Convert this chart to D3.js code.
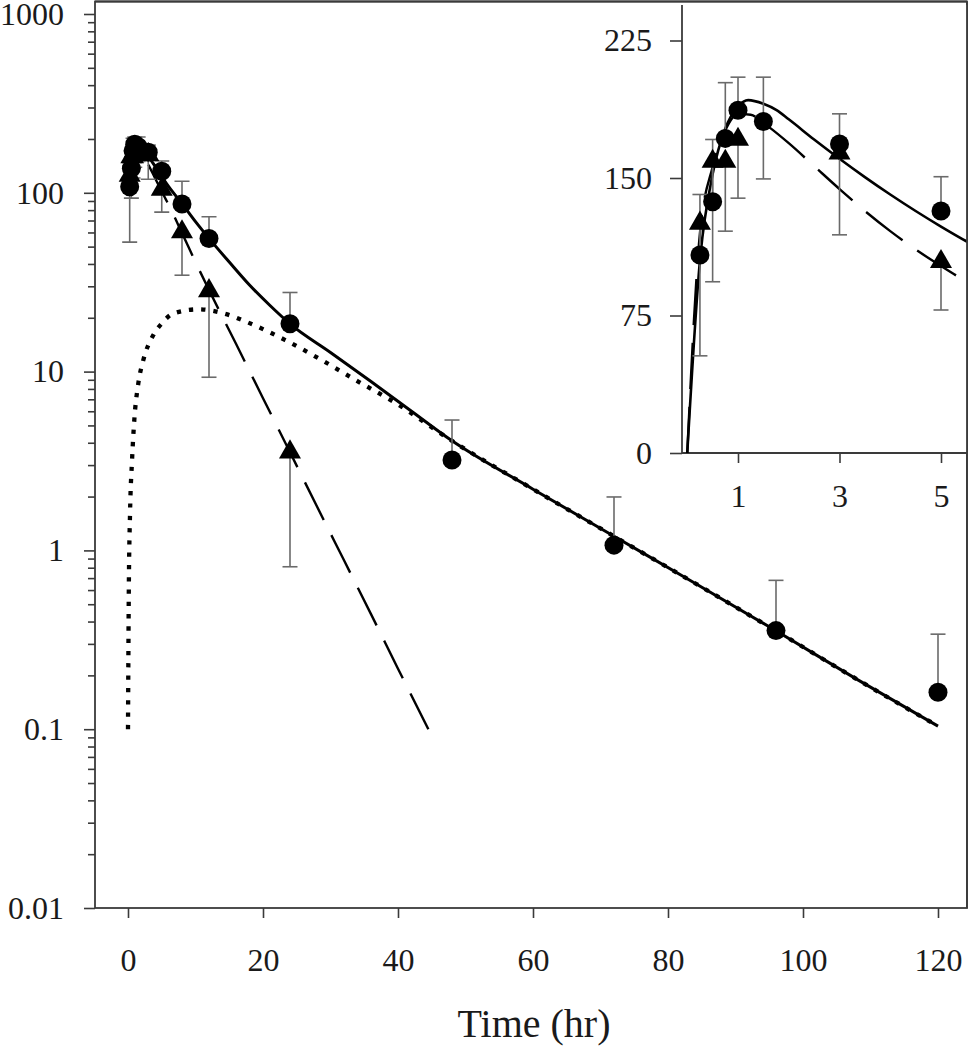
<!DOCTYPE html>
<html><head><meta charset="utf-8">
<script src="https://cdn.jsdelivr.net/npm/d3@7"></script>
<style>
body{margin:0;background:#fff}
text{font-family:"Liberation Serif","Times New Roman",serif;fill:#1a1a1a}
</style>
</head><body>
<svg id="c" width="971" height="1050"></svg>
<script>
// ---------------- data ----------------
const circleTime  = [0.25, 0.5, 0.75, 1, 1.5, 3, 5, 8, 12, 24, 48, 72, 96, 120];
const circleConc  = [108, 137, 171.6, 187, 180.8, 168.6, 132, 86.5, 55.5, 18.5, 3.2, 1.07, 0.356, 0.161];
const circleUpper = [141, 171, 202, 205, 205, 185, 150.7, 116, 73.5, 27.7, 5.36, 1.99, 0.68, 0.34];
const circleLower = [null, null, null, null, 149.5, null, null, null, null, null, null, null, null, null];

const triTime  = [0.25, 0.5, 0.75, 1, 3, 5, 8, 12, 24];
const triConc  = [125.3, 159, 159, 171, 163.5, 104.4, 60.4, 28.3, 3.55];
const triLower = [53, 93.4, 121, 139, 119, 78, 34.6, 9.3, 0.81];

const solidTime = [0, 0.25, 0.5, 0.75, 1, 1.2, 1.5, 1.76, 2, 2.5, 3, 3.5, 4, 4.5, 5, 5.5, 6, 8, 10, 12, 15, 18, 21, 24, 30, 36, 42, 48, 60, 72, 84, 96, 108, 120];
const solidConc = [0, 105, 152, 177, 189, 192.5, 190.5, 187, 182, 171, 160.5, 150.5, 141, 132, 123.5, 115.5, 108.5, 87, 69, 55.6, 41, 30.5, 23.5, 18.5, 12.8, 8.8, 6.0, 4.1, 2.2, 1.2, 0.655, 0.355, 0.19, 0.104];

const dashedTime = [0, 0.25, 0.5, 0.75, 1, 1.25, 1.5, 2, 2.5, 3, 3.5, 4, 4.5, 5, 5.5, 6, 8, 10, 12, 16, 20, 24, 28, 32, 36, 40, 44.5];
const dashedConc = [0, 120, 156, 176, 185, 184.5, 180, 169, 156.5, 144, 132, 121, 111, 102, 93.5, 86, 59.6, 41, 28.6, 14.3, 7.1, 3.54, 1.76, 0.88, 0.44, 0.218, 0.1];

const dottedTime = [0, 0.12, 0.3, 0.6, 0.94, 1.53, 2.27, 3.75, 5, 6.8, 10.4, 14.1, 17.8, 23.3, 28.7, 34.1, 39.3, 48, 60, 72, 84, 96, 108, 120];
const dottedConc = [0.1, 0.6, 1.6, 3.2, 5.4, 8.6, 11.6, 16, 18.6, 21.2, 22.3, 21.2, 18.8, 15, 11.6, 8.8, 6.8, 4.1, 2.2, 1.2, 0.655, 0.355, 0.19, 0.104];

const yTickValues  = [0.01, 0.1, 1, 10, 100, 1000];
const yTickLabels  = ["0.01", "0.1", "1", "10", "100", "1000"];
const xTickValues  = [0, 20, 40, 60, 80, 100, 120];
const insetYTicks  = [0, 75, 150, 225];
const insetXTicks  = [1, 3, 5];
const xTitle = "Time (hr)";

// ---------------- layout ----------------
const svg = d3.select("#c");
const F = {l: 95, t: 1.5, r: 967, b: 908};
const x = d3.scaleLinear().domain([0, 120]).range([128, 938]);
const y = d3.scaleLog().domain([0.01, 1000]).range([908, 14]);

const I = {l: 682, t: 5, r: 967, b: 453};
const xi = d3.scaleLinear().domain([1, 5]).range([738, 941]);
const yi = d3.scaleLinear().domain([0, 225]).range([453, 40.5]);

const defs = svg.append("defs");
defs.append("clipPath").attr("id", "clipMain").append("rect")
  .attr("x", F.l).attr("y", F.t).attr("width", F.r - F.l).attr("height", F.b - F.t);
defs.append("clipPath").attr("id", "clipInset").append("rect")
  .attr("x", I.l).attr("y", I.t).attr("width", I.r - I.l).attr("height", I.b - I.t);

const AX = "#3a3a3a";
const EB = "#6a6a6a";
const FS = 32;

// ---------------- main axes ----------------
const minorY = [];
for (let e = -2; e < 3; e++) for (let m = 2; m <= 9; m++) minorY.push(m * Math.pow(10, e));

const gyMinor = svg.append("g").attr("transform", `translate(${F.l},0)`)
  .call(d3.axisLeft(y).tickValues(minorY).tickSize(7).tickFormat(""));
const gy = svg.append("g").attr("transform", `translate(${F.l},0)`)
  .call(d3.axisLeft(y).tickValues(yTickValues).tickSize(11).tickPadding(20)
    .tickFormat((d, i) => yTickLabels[i]));
const gx = svg.append("g").attr("transform", `translate(0,${F.b})`)
  .call(d3.axisBottom(x).tickValues(xTickValues).tickSize(10).tickPadding(30).tickFormat(d3.format("d")));

[gyMinor, gy, gx].forEach(g => {
  g.select(".domain").remove();
  g.selectAll(".tick line").attr("stroke", AX).attr("stroke-width", 1.6);
  g.selectAll(".tick text").attr("font-size", FS).attr("fill", "#1a1a1a")
    .attr("font-family", '"Liberation Serif","Times New Roman",serif');
});

// frame
svg.append("rect").attr("x", F.l).attr("y", F.t).attr("width", F.r - F.l).attr("height", F.b - F.t)
  .attr("fill", "none").attr("stroke", AX).attr("stroke-width", 1.8);

svg.append("text").attr("x", 534).attr("y", 1037).attr("text-anchor", "middle")
  .attr("font-size", 40).text(xTitle);

// ---------------- main plot content ----------------
const main = svg.append("g").attr("clip-path", "url(#clipMain)");
const lineMain = d3.line().x(d => x(d[0])).y(d => y(d[1])).curve(d3.curveMonotoneX);

const dottedPts = dottedTime.map((t, i) => [t, dottedConc[i]]);
const dashedPtsMain = dashedTime.map((t, i) => [t, dashedConc[i]]).filter(d => d[0] >= 0.25);
const solidPtsMain = solidTime.map((t, i) => [t, solidConc[i]]).filter(d => d[0] >= 0.25);

main.append("path").attr("d", lineMain(dottedPts)).attr("fill", "none").attr("stroke", "#000")
  .attr("stroke-width", 4.3).attr("stroke-dasharray", "4.3 8");
main.append("path").attr("d", lineMain(dashedPtsMain)).attr("fill", "none").attr("stroke", "#000")
  .attr("stroke-width", 2.4).attr("stroke-dasharray", "42 17");
main.append("path").attr("d", lineMain(solidPtsMain)).attr("fill", "none").attr("stroke", "#000")
  .attr("stroke-width", 3);

function errorBars(g, xs, ys, times, centers, ends, cap) {
  times.forEach((t, i) => {
    const e = ends[i];
    if (e == null) return;
    const px = xs(t);
    g.append("line").attr("x1", px).attr("x2", px).attr("y1", ys(centers[i])).attr("y2", ys(e))
      .attr("stroke", EB).attr("stroke-width", 1.6);
    g.append("line").attr("x1", px - cap).attr("x2", px + cap).attr("y1", ys(e)).attr("y2", ys(e))
      .attr("stroke", EB).attr("stroke-width", 1.6);
  });
}
errorBars(main, x, y, circleTime, circleConc, circleUpper, 7.5);
errorBars(main, x, y, circleTime, circleConc, circleLower, 7.5);
errorBars(main, x, y, triTime, triConc, triLower, 7.5);

const circSym = d3.symbol().type(d3.symbolCircle).size(Math.PI * 9.5 * 9.5);
const triSym = d3.symbol().type(d3.symbolTriangle).size(210);

function markers(g, xs, ys, times, vals, sym, filt) {
  times.forEach((t, i) => {
    if (!filt(t)) return;
    g.append("path").attr("d", sym()).attr("fill", "#000")
      .attr("transform", `translate(${xs(t)},${ys(vals[i])})`);
  });
}
markers(main, x, y, circleTime, circleConc, circSym, () => true);
markers(main, x, y, triTime, triConc, triSym, () => true);

// ---------------- inset ----------------
svg.append("rect").attr("x", I.l).attr("y", I.t).attr("width", I.r - I.l).attr("height", I.b - I.t)
  .attr("fill", "#fff");

const giy = svg.append("g").attr("transform", `translate(${I.l},0)`)
  .call(d3.axisLeft(yi).tickValues(insetYTicks).tickSize(12).tickPadding(18).tickFormat(d3.format("d")));
const gix = svg.append("g").attr("transform", `translate(0,${I.b})`)
  .call(d3.axisBottom(xi).tickValues(insetXTicks).tickSize(10).tickPadding(21).tickFormat(d3.format("d")));
[giy, gix].forEach(g => {
  g.select(".domain").remove();
  g.selectAll(".tick line").attr("stroke", AX).attr("stroke-width", 1.6);
  g.selectAll(".tick text").attr("font-size", FS).attr("fill", "#1a1a1a")
    .attr("font-family", '"Liberation Serif","Times New Roman",serif');
});
svg.append("line").attr("x1", I.l).attr("x2", I.l).attr("y1", I.t).attr("y2", I.b)
  .attr("stroke", AX).attr("stroke-width", 1.8);
svg.append("line").attr("x1", I.l).attr("x2", I.r).attr("y1", I.b).attr("y2", I.b)
  .attr("stroke", AX).attr("stroke-width", 1.8);

const inset = svg.append("g").attr("clip-path", "url(#clipInset)");
const lineInset = d3.line().x(d => xi(d[0])).y(d => yi(d[1])).curve(d3.curveMonotoneX);
const dashedPtsIn = dashedTime.map((t, i) => [t, dashedConc[i]]).filter(d => d[0] <= 6);
const solidPtsIn = solidTime.map((t, i) => [t, solidConc[i]]).filter(d => d[0] <= 6);
inset.append("path").attr("d", lineInset(dashedPtsIn)).attr("fill", "none").attr("stroke", "#000")
  .attr("stroke-width", 2.4).attr("stroke-dasharray", "46 18");
inset.append("path").attr("d", lineInset(solidPtsIn)).attr("fill", "none").attr("stroke", "#000")
  .attr("stroke-width", 2.6);

const inInset = t => t <= 5.6;
const cT = circleTime.filter(inInset), tT = triTime.filter(inInset);
errorBars(inset, xi, yi, cT, circleConc, circleUpper, 7.5);
errorBars(inset, xi, yi, cT, circleConc, circleLower, 7.5);
errorBars(inset, xi, yi, tT, triConc, triLower, 7.5);
markers(inset, xi, yi, circleTime, circleConc, circSym, inInset);
markers(inset, xi, yi, triTime, triConc, triSym, inInset);

// re-draw main borders over inset background
svg.append("line").attr("x1", F.r).attr("x2", F.r).attr("y1", F.t).attr("y2", F.b)
  .attr("stroke", AX).attr("stroke-width", 1.8);
svg.append("line").attr("x1", F.l).attr("x2", F.r).attr("y1", F.t).attr("y2", F.t)
  .attr("stroke", AX).attr("stroke-width", 1.8);
</script>
</body></html>
